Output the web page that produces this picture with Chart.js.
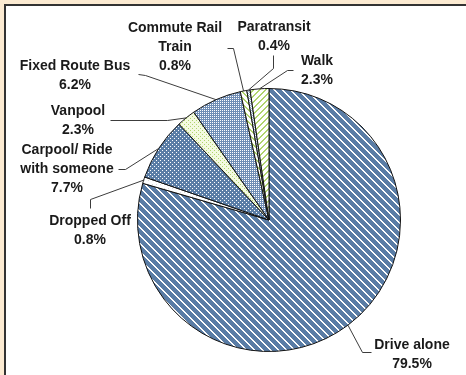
<!DOCTYPE html>
<html>
<head>
<meta charset="utf-8">
<script src="https://cdn.jsdelivr.net/npm/chart.js@4/dist/chart.umd.min.js"></script>
<style>
  html, body { margin: 0; padding: 0; }
  #frame {
    position: relative; width: 466px; height: 375px; overflow: hidden;
    background: #fcebd2;
  }
  #inner {
    position: absolute; left: 4px; top: 4px; right: 0; bottom: 0;
    background: #fff; border-top: 2px solid #333; border-left: 2px solid #333;
  }
  #mode-chart { position: absolute; left: 0; top: 0; }
</style>
</head>
<body>
<div id="frame">
  <div id="inner"></div>
  <canvas id="mode-chart" width="466" height="375"></canvas>
</div>
<script>
// --- ข้อมูลสัดส่วนการเดินทาง ---
const MODES = [
    "Drive alone", "Dropped Off", "Carpool/ Ride with someone", "Vanpool",
    "Fixed Route Bus", "Commute Rail Train", "Paratransit", "Walk"
];
const SHARES = [79.5, 0.8, 7.7, 2.3, 6.2, 0.8, 0.4, 2.3];
// บรรทัดของป้ายแต่ละชิ้น (ชื่อแยกบรรทัดตามที่แสดง)
const LABEL_LINES = [
    ["Drive alone"], ["Dropped Off"], ["Carpool/ Ride", "with someone"], ["Vanpool"],
    ["Fixed Route Bus"], ["Commute Rail", "Train"], ["Paratransit"], ["Walk"]
];

// --- ตำแหน่งป้ายและเส้นนำ: [cx, y บรรทัดแรก, sx, sy, ex, ey] ---
const LABEL_POS = [
    [412, 345, 371, 352, 362, 352],
    [90, 221, 90, 208, 90, 199],
    [67, 150, 118, 169, 125, 169],
    [78, 111, 110, 120, 167, 120],
    [75, 66, 138, 74, 145, 75],
    [175, 28, 227, 48, 233, 48],
    [274, 27, 273, 55, 273, 68],
    [317, 61, 293, 70, 287, 70]
];
const LINE_GAP = 19;

const canvas = document.getElementById('mode-chart');
const ctx = canvas.getContext('2d');

/**
 * สร้าง pattern จาก tile เล็ก ๆ แบบพิกเซล
 */
function makePattern(w, h, pick) {
    const c = document.createElement('canvas');
    c.width = w; c.height = h;
    const g = c.getContext('2d');
    const img = g.createImageData(w, h);
    for (let y = 0; y < h; y++) {
        for (let x = 0; x < w; x++) {
            const col = pick(x, y);
            const i = (y * w + x) * 4;
            img.data[i] = col[0]; img.data[i + 1] = col[1]; img.data[i + 2] = col[2]; img.data[i + 3] = 255;
        }
    }
    g.putImageData(img, 0, 0);
    return ctx.createPattern(c, 'repeat');
}

const BLUE = [90, 125, 166];
const WHITE = [255, 255, 255];
const GREEN = [176, 212, 110];
const PALE = [244, 250, 224];

const fills = [
    // ลายเฉียงกว้าง น้ำเงิน/ขาว
    makePattern(8, 8, (x, y) => ((x - y + 16) % 8 < 2 ? WHITE : BLUE)),
    makePattern(4, 4, (x, y) => (x === 0 && y === 0 ? [220, 220, 220] : WHITE)),
    // จุดขาวบนน้ำเงิน
    makePattern(4, 4, (x, y) => ((x === 0 && y === 0) || (x === 2 && y === 2) ? WHITE : BLUE)),
    // จุดเขียวบนเหลืองอ่อน
    makePattern(4, 4, (x, y) => ((x === 0 && y === 0) || (x === 2 && y === 2) ? GREEN : PALE)),
    // จุดขาวถี่บนฟ้าอมเทา
    makePattern(4, 4, (x, y) => (x % 2 === 0 && y % 2 === 0 ? WHITE : [112, 142, 182])),
    makePattern(6, 6, (x, y) => ((x - y + 12) % 6 < 2 ? GREEN : WHITE)),
    makePattern(4, 4, (x, y) => ((x + y) % 2 === 0 ? WHITE : [150, 175, 205])),
    // ลายเฉียงเขียวอ่อน
    makePattern(6, 6, (x, y) => ((x + y) % 6 < 2 ? GREEN : WHITE))
];

// --- ป้ายกำกับและเส้นนำ ---
const calloutPlugin = {
    id: 'callouts',
    afterDatasetsDraw(chart) {
        const g = chart.ctx;
        const arcs = chart.getDatasetMeta(0).data;
        g.save();
        arcs.forEach((arc, i) => {
            const p = arc.getProps(['x', 'y', 'startAngle', 'endAngle', 'outerRadius'], true);
            const mid = (p.startAngle + p.endAngle) / 2;
            const px = p.x + Math.cos(mid) * p.outerRadius;
            const py = p.y + Math.sin(mid) * p.outerRadius;
            const [cx, ty, sx, sy, ex, ey] = LABEL_POS[i];

            g.strokeStyle = '#3c3c3c';
            g.lineWidth = 1;
            g.beginPath();
            g.moveTo(sx + 0.5, sy + 0.5);
            g.lineTo(ex + 0.5, ey + 0.5);
            g.lineTo(px, py);
            g.stroke();

            const lines = LABEL_LINES[i].concat([SHARES[i].toFixed(1) + '%']);
            g.fillStyle = '#1a1a1a';
            g.font = 'bold 14px "Liberation Sans", Arial, sans-serif';
            g.textAlign = 'center';
            g.textBaseline = 'middle';
            lines.forEach((t, k) => g.fillText(t, cx, ty + k * LINE_GAP));
        });
        g.restore();
    }
};

new Chart(ctx, {
    type: 'pie',
    data: {
        labels: MODES,
        datasets: [{
            data: SHARES,
            backgroundColor: fills,
            borderColor: '#111',
            borderWidth: 1
        }]
    },
    options: {
        responsive: false,
        animation: false,
        layout: { padding: { left: 137, right: 65, top: 88, bottom: 23 } },
        plugins: {
            legend: { display: false },
            tooltip: { enabled: false }
        }
    },
    plugins: [calloutPlugin]
});
</script>
</body>
</html>
